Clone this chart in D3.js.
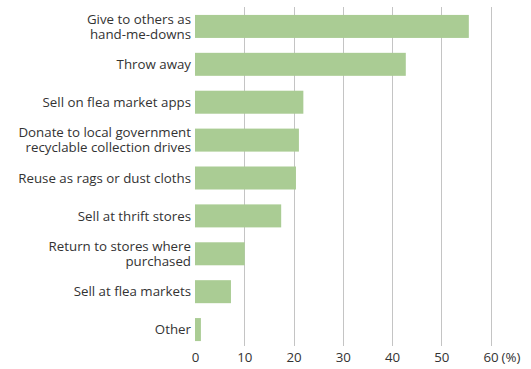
<!DOCTYPE html>
<html>
<head>
<meta charset="utf-8">
<script src="https://cdn.jsdelivr.net/npm/d3@7"></script>
<style>
  html, body { margin: 0; padding: 0; background: #fff; }
  svg { display: block; }
  text { font-family: "Open Sans", "Noto Sans", sans-serif; fill: #333; }
</style>
</head>
<body>
<svg id="chart" width="531" height="369"></svg>
<script>
// How households dispose of items (share of respondents, %)
const categories = [
  ["Give to others as", "hand-me-downs"],
  ["Throw away"],
  ["Sell on flea market apps"],
  ["Donate to local government", "recyclable collection drives"],
  ["Reuse as rags or dust cloths"],
  ["Sell at thrift stores"],
  ["Return to stores where", "purchased"],
  ["Sell at flea markets"],
  ["Other"]
];
const values = [55.6, 42.8, 22.0, 21.1, 20.5, 17.5, 10.1, 7.3, 1.2];
const ticks = [0, 10, 20, 30, 40, 50, 60];
const unitLabel = "(%)";

const svg = d3.select("#chart");
const left = 195, right = 490.5;
const bandTop = 7.5, bandBottom = 348.5;
const fontSize = 13.3;

const x = d3.scaleLinear().domain([0, 60]).range([left, right]);
const y = d3.scaleBand()
  .domain(d3.range(categories.length))
  .range([bandTop, bandBottom])
  .paddingInner(0.393)
  .paddingOuter(0.196);

// vertical gridlines
svg.append("g")
  .selectAll("line")
  .data(ticks.filter(t => t > 0))
  .join("line")
  .attr("x1", d => Math.round(x(d)) + 0.5)
  .attr("x2", d => Math.round(x(d)) + 0.5)
  .attr("y1", 7)
  .attr("y2", 346)
  .attr("stroke", "#c4c4c4")
  .attr("stroke-width", 1);

// bars
svg.append("g")
  .selectAll("rect")
  .data(values)
  .join("rect")
  .attr("x", x(0))
  .attr("y", (d, i) => y(i))
  .attr("width", d => x(d) - x(0))
  .attr("height", y.bandwidth())
  .attr("fill", "#aacc94");

// category labels (one or two lines)
const lineH = 15;
svg.append("g")
  .selectAll("text")
  .data(categories)
  .join("text")
  .attr("text-anchor", "end")
  .attr("font-size", fontSize)
  .each(function(lines, i) {
    const cy = y(i) + y.bandwidth() / 2;
    const t = d3.select(this);
    lines.forEach((ln, k) => {
      t.append("tspan")
        .attr("x", 191)
        .attr("y", cy + (k - (lines.length - 1) / 2) * lineH)
        .attr("dy", "0.35em")
        .text(ln);
    });
  });

// x axis tick labels
const axis = d3.axisBottom(x).tickValues(ticks).tickSize(0).tickPadding(0);
const ax = svg.append("g")
  .attr("transform", "translate(0,353)")
  .call(axis);
ax.select(".domain").remove();
ax.selectAll("text")
  .attr("font-size", fontSize)
  .attr("fill", "#333")
  .style("font-family", '"Open Sans", "Noto Sans", sans-serif');

svg.append("text")
  .attr("x", x(60) + 11)
  .attr("y", 353)
  .attr("dy", "0.71em")
  .attr("font-size", fontSize)
  .text(unitLabel);
</script>
</body>
</html>
